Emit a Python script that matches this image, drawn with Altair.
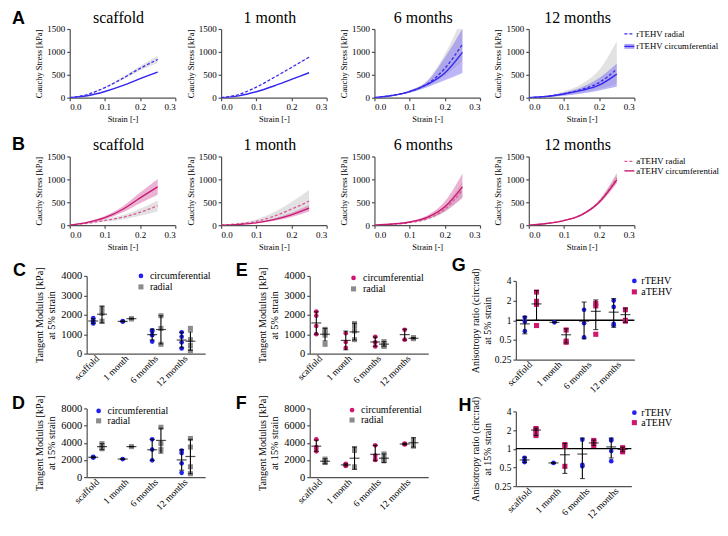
import altair as alt
import pandas as pd

SERIF = "Liberation Serif"
SANS = "Liberation Sans"

# ---------------- data ----------------
strain = [0.0, 0.05, 0.10, 0.15, 0.20, 0.25]
timepoints = ["scaffold", "1 month", "6 months", "12 months"]

# A: rTEHV Cauchy stress [kPa]
rA_sc_rad = [0, 70, 220, 420, 640, 835]
rA_sc_rad_lo = [0, 64, 205, 390, 595, 755]
rA_sc_rad_hi = [0, 76, 235, 450, 690, 920]
rA_sc_circ = [0, 42, 135, 262, 415, 560]
rA_sc_circ_lo = [0, 41, 132, 256, 405, 548]
rA_sc_circ_hi = [0, 43, 138, 268, 425, 572]

rA_1m_rad = [0, 70, 230, 440, 660, 885]
rA_1m_rad_lo = [0, 69, 226, 433, 650, 872]
rA_1m_rad_hi = [0, 71, 234, 447, 670, 898]
rA_1m_circ = [0, 40, 130, 255, 400, 545]
rA_1m_circ_lo = [0, 39, 128, 251, 394, 537]
rA_1m_circ_hi = [0, 41, 132, 259, 406, 553]

rA_6m_rad = [0, 50, 135, 300, 640, 1165]
rA_6m_rad_lo = [0, 42, 115, 250, 480, 800]
rA_6m_rad_hi = [0, 58, 160, 380, 950, 1750]
rA_6m_circ = [0, 48, 133, 290, 540, 990]
rA_6m_circ_lo = [0, 40, 110, 230, 380, 540]
rA_6m_circ_hi = [0, 55, 160, 360, 880, 1500]

rA_12m_rad = [0, 30, 90, 180, 330, 625]
rA_12m_rad_lo = [0, 20, 60, 110, 190, 300]
rA_12m_rad_hi = [0, 40, 140, 300, 610, 1235]
rA_12m_circ = [0, 25, 80, 160, 275, 515]
rA_12m_circ_lo = [0, 15, 45, 90, 160, 237]
rA_12m_circ_hi = [0, 35, 110, 230, 430, 746]

# B: aTEHV Cauchy stress [kPa]
aB_sc_rad = [0, 41, 103, 171, 281, 425]
aB_sc_rad_lo = [0, 30, 78, 125, 205, 301]
aB_sc_rad_hi = [0, 52, 128, 220, 360, 541]
aB_sc_circ = [0, 62, 164, 342, 596, 836]
aB_sc_circ_lo = [0, 48, 130, 275, 480, 664]
aB_sc_circ_hi = [0, 76, 200, 410, 715, 1007]

aB_1m_rad = [0, 30, 85, 195, 350, 523]
aB_1m_rad_lo = [0, 20, 55, 125, 225, 340]
aB_1m_rad_hi = [0, 42, 125, 280, 505, 767]
aB_1m_circ = [0, 18, 50, 120, 225, 370]
aB_1m_circ_lo = [0, 14, 40, 95, 180, 300]
aB_1m_circ_hi = [0, 22, 60, 145, 270, 440]

aB_6m_rad = [0, 20, 55, 140, 350, 767]
aB_6m_rad_lo = [0, 15, 45, 115, 290, 620]
aB_6m_rad_hi = [0, 25, 70, 170, 430, 950]
aB_6m_circ = [0, 25, 70, 170, 400, 837]
aB_6m_circ_lo = [0, 20, 55, 135, 300, 593]
aB_6m_circ_hi = [0, 30, 85, 210, 520, 1130]

aB_12m_rad = [0, 37, 104, 232, 515, 1025]
aB_12m_rad_lo = [0, 34, 96, 215, 480, 940]
aB_12m_rad_hi = [0, 40, 112, 250, 555, 1150]
aB_12m_circ = [0, 35, 100, 225, 500, 990]
aB_12m_circ_lo = [0, 32, 92, 208, 465, 910]
aB_12m_circ_hi = [0, 38, 108, 242, 540, 1110]

# C: rTEHV tangent modulus at 5% strain [kPa]
C_circ_pts = [[1830, 1700, 1600, 1550], [1670, 1650], [1200, 1150, 950, 620], [1100, 870, 580, 270]]
C_circ_mean = [1680, 1660, 980, 700]
C_circ_lo = [1560, 1640, 700, 300]
C_circ_hi = [1800, 1680, 1260, 1100]
C_rad_pts = [[2330, 2080, 1670], [1800, 1790], [1950, 1300, 480], [1300, 720, 420, 130]]
C_rad_mean = [2030, 1800, 1240, 640]
C_rad_lo = [1580, 1780, 500, 170]
C_rad_hi = [2450, 1820, 1950, 1120]

# D: rTEHV tangent modulus at 15% strain [kPa]
D_circ_pts = [[2350, 2300, 2280], [2100], [4400, 3200, 1950], [3100, 2800, 1600, 500]]
D_circ_mean = [2310, 2100, 3180, 2000]
D_circ_lo = [2260, 2090, 1950, 800]
D_circ_hi = [2360, 2110, 4400, 3200]
D_rad_pts = [[3900, 3500, 3300], [3550], [5800, 3900, 3200], [4500, 3500, 1200, 400]]
D_rad_mean = [3550, 3550, 4270, 2400]
D_rad_lo = [3200, 3530, 2800, 400]
D_rad_hi = [3900, 3570, 5700, 4400]

# E: aTEHV tangent modulus at 5% strain [kPa]
E_circ_pts = [[2170, 1950, 1420, 1000], [1050, 600, 300], [870, 580, 370], [1230, 720]]
E_circ_mean = [1580, 680, 600, 980]
E_circ_lo = [1000, 200, 380, 700]
E_circ_hi = [2150, 1160, 850, 1260]
E_rad_pts = [[1250, 1150, 1050, 950, 480], [1550, 1420, 1170, 720], [620, 500, 400, 370], [830, 790, 770]]
E_rad_mean = [1000, 1120, 490, 790]
E_rad_lo = [650, 700, 380, 760]
E_rad_hi = [1300, 1560, 620, 830]

# F: aTEHV tangent modulus at 15% strain [kPa]
F_circ_pts = [[4400, 3500, 3300, 3000], [1550, 1400, 1300], [3700, 2500, 2100, 2000], [3900, 3800, 3850]]
F_circ_mean = [3600, 1420, 2650, 3850]
F_circ_lo = [3000, 1300, 1900, 3750]
F_circ_hi = [4300, 1550, 3700, 3950]
F_rad_pts = [[2100, 1800, 1700], [3300, 3100, 1200], [2700, 2200, 2000, 1900], [4300, 3900, 3600]]
F_rad_mean = [1850, 2200, 2200, 4000]
F_rad_lo = [1550, 900, 1700, 3500]
F_rad_hi = [2150, 3500, 2700, 4600]

# G: anisotropy ratio at 5% strain
G_r_pts = [[1.1, 0.95, 0.68], [0.93], [1.45, 0.9, 0.55], [2.0, 1.6, 0.88, 0.84]]
G_r_mean = [0.88, 0.93, 0.97, 1.33]
G_r_lo = [0.62, 0.92, 0.52, 0.78]
G_r_hi = [1.15, 0.94, 1.9, 2.15]
G_a_pts = [[2.7, 1.95, 1.75, 0.83], [0.71, 0.48, 0.46], [1.82, 1.66, 0.61], [1.45, 1.0, 0.97]]
G_a_mean = [1.78, 0.6, 1.37, 1.22]
G_a_lo = [1.0, 0.45, 0.72, 0.93]
G_a_hi = [2.85, 0.74, 2.05, 1.53]

# H: anisotropy ratio at 15% strain
H_r_pts = [[0.71, 0.64, 0.61], [0.59], [1.4, 0.55, 0.52], [1.4, 1.36, 0.92, 0.63]]
H_r_mean = [0.66, 0.59, 0.82, 1.07]
H_r_lo = [0.6, 0.585, 0.33, 0.71]
H_r_hi = [0.73, 0.595, 1.48, 1.48]
H_a_pts = [[2.12, 2.0, 1.82, 1.63], [1.17, 1.1, 0.52], [1.36, 1.28, 1.13], [1.04, 0.98, 0.89]]
H_a_mean = [2.0, 0.8, 1.24, 0.98]
H_a_lo = [1.63, 0.4, 1.13, 0.89]
H_a_hi = [2.15, 1.21, 1.38, 1.06]

# ---------------- styles ----------------
BLUE_LINE = "#3527f0"
BLUE_BAND = "#7a6cf0"
GREY_BAND = "#d6d6d6"
PINK_LINE = "#c91a72"
PINK_DASH = "#e0589a"
PINK_BAND = "#d868a8"
BLUE_PT = "#2020f0"
PINK_PT = "#d0166e"
GREY_PT = "#8c8c8c"

ONE = pd.DataFrame({"k": [0]})


def vtext(txt, x, y, size=9.0, font=SERIF, weight="normal", baseline="middle", align="left"):
    return alt.Chart(ONE).mark_text(
        text=txt, align=align, baseline=baseline, font=font, fontSize=size,
        fontWeight=weight, color="black"
    ).encode(x=alt.value(x), y=alt.value(y))


def spacer(w, h=1, letters=()):
    base = alt.Chart(ONE).mark_point(opacity=0).encode(x=alt.value(0), y=alt.value(0))
    layers = [base] + [vtext(t, lx, ly, size=18, font=SANS, weight="bold", baseline="alphabetic")
                       for (t, lx, ly) in letters]
    return alt.layer(*layers).properties(width=w, height=h)


def curve_panel(title, rad, rad_lo, rad_hi, circ, circ_lo, circ_hi, col_rad, col_circ, col_band, extras=()):
    df = pd.DataFrame({"strain": strain, "rad": rad, "rad_lo": rad_lo, "rad_hi": rad_hi,
                       "circ": circ, "circ_lo": circ_lo, "circ_hi": circ_hi})
    x = alt.X("strain:Q", scale=alt.Scale(domain=[0, 0.3], nice=False),
              axis=alt.Axis(values=[0, 0.1, 0.2, 0.3], format=".1f", title="Strain [-]",
                            labelFontSize=9, titleFontSize=8.5, tickSize=3, labelPadding=2,
                            titlePadding=3, labelFont=SERIF, titleFont=SERIF, titleFontWeight="normal"))
    ys = alt.Scale(domain=[0, 1500], nice=False)
    ya = alt.Axis(values=[0, 500, 1000, 1500], format="d", title="Cauchy Stress [kPa]", labelFontSize=9,
                  titleFontSize=8.5, tickSize=3, labelPadding=2, titlePadding=3,
                  labelFont=SERIF, titleFont=SERIF, titleFontWeight="normal")
    base = alt.Chart(df)
    layers = [
        base.mark_area(color=GREY_BAND, opacity=0.7, interpolate="monotone", clip=True).encode(
            x=x, y=alt.Y("rad_lo:Q", scale=ys, axis=ya), y2="rad_hi:Q"),
        base.mark_area(color=col_band, opacity=0.5, interpolate="monotone", clip=True).encode(
            x=x, y=alt.Y("circ_lo:Q", scale=ys, axis=ya), y2="circ_hi:Q"),
        base.mark_line(color=col_rad, strokeWidth=1.3, strokeDash=[3, 2], interpolate="monotone",
                       clip=True).encode(x=x, y=alt.Y("rad:Q", scale=ys, axis=ya)),
        base.mark_line(color=col_circ, strokeWidth=1.4, interpolate="monotone", clip=True).encode(
            x=x, y=alt.Y("circ:Q", scale=ys, axis=ya)),
        vtext(title, 49, -6.5, size=16, baseline="alphabetic", align="center"),
    ]
    return alt.layer(*layers, *extras).properties(width=106, height=69)


def scatter_panel(s1, s2, ytitle, ydomain, yvals, ylog, width, height, band, legend, ref_line=False):
    pi, po, po2 = band
    x = alt.X("time:N", scale=alt.Scale(domain=timepoints, paddingInner=pi, paddingOuter=po, align=0),
              axis=alt.Axis(title=None, labelAngle=-45, labelAlign="right", labelBaseline="middle",
                            ticks=False, labelPadding=3, labelFontSize=9.5, labelFont=SERIF))
    xo = alt.XOffset("series:N", scale=alt.Scale(domain=[s1["key"], s2["key"]], paddingInner=0,
                                                 paddingOuter=po2))
    if ylog:
        ys = alt.Scale(type="log", base=2, domain=ydomain, nice=False)
        fmt = "~g"
        lab_size, tit_size, tit_pad = 9.5, 10.0, 2
    else:
        ys = alt.Scale(domain=ydomain, nice=False)
        fmt = "d"
        lab_size, tit_size, tit_pad = 10.5, 10.2, 4
    ya = alt.Axis(values=yvals, format=fmt, title=ytitle, labelFontSize=lab_size, titleFontSize=tit_size,
                  tickSize=3, labelPadding=2, titlePadding=tit_pad, labelFont=SERIF, titleFont=SERIF,
                  titleFontWeight="normal")
    layers = []
    if ref_line:
        layers.append(alt.Chart(ONE).mark_rule(color="black", strokeWidth=1.3).encode(
            y=alt.datum(1, scale=ys, axis=ya)))
    for s in (s1, s2):
        rows = [(t, s["key"], v) for t, vals in zip(timepoints, s["pts"]) for v in vals]
        pts = pd.DataFrame(rows, columns=["time", "series", "value"])
        summ = pd.DataFrame({"time": timepoints, "series": s["key"], "mean": s["mean"],
                             "lo": s["lo"], "hi": s["hi"]})
        layers.append(alt.Chart(pts).mark_point(filled=True, shape=s["shape"], size=s["size"],
                                                color=s["color"], opacity=1).encode(
            x=x, xOffset=xo, y=alt.Y("value:Q", scale=ys, axis=ya)))
        layers.append(alt.Chart(summ).mark_rule(color="black", strokeWidth=1.1).encode(
            x=x, xOffset=xo, y=alt.Y("lo:Q", scale=ys, axis=ya), y2="hi:Q"))
        layers.append(alt.Chart(summ).mark_tick(color="black", size=10, thickness=1.2).encode(
            x=x, xOffset=xo, y=alt.Y("mean:Q", scale=ys, axis=ya)))
        layers.append(alt.Chart(summ).mark_tick(color="black", size=5, thickness=1.1).encode(
            x=x, xOffset=xo, y=alt.Y("lo:Q", scale=ys, axis=ya)))
        layers.append(alt.Chart(summ).mark_tick(color="black", size=5, thickness=1.1).encode(
            x=x, xOffset=xo, y=alt.Y("hi:Q", scale=ys, axis=ya)))
    lx, ly, gap, tdx = legend
    for i, s in enumerate((s1, s2)):
        yy = ly + i * gap
        layers.append(alt.Chart(ONE).mark_point(filled=True, shape=s["shape"], size=s["size"],
                                                color=s["color"], opacity=1).encode(
            x=alt.value(lx), y=alt.value(yy)))
        layers.append(vtext(s["label"], lx + tdx, yy, size=10))
    return alt.layer(*layers).properties(width=width, height=height)


def ser(key, label, pts, mean, lo, hi, color, shape):
    return {"key": key, "label": label, "pts": pts, "mean": mean, "lo": lo, "hi": hi,
            "color": color, "shape": shape, "size": 22 if shape == "circle" else 26}


# ---------------- legends for curve rows ----------------
legA = [
    alt.Chart(ONE).mark_rule(color=BLUE_LINE, strokeWidth=1.3, strokeDash=[3, 2]).encode(
        x=alt.value(96), x2=alt.value(106), y=alt.value(5)),
    vtext("rTEHV radial", 108, 5, size=8.8),
    alt.Chart(ONE).mark_rule(color=BLUE_BAND, strokeWidth=5, opacity=0.6).encode(
        x=alt.value(96), x2=alt.value(106), y=alt.value(17.5)),
    alt.Chart(ONE).mark_rule(color=BLUE_LINE, strokeWidth=1.3).encode(
        x=alt.value(96), x2=alt.value(106), y=alt.value(17.5)),
    vtext("rTEHV circumferential", 108, 17.5, size=8.8),
]
legB = [
    alt.Chart(ONE).mark_rule(color=PINK_DASH, strokeWidth=1.3, strokeDash=[3, 2]).encode(
        x=alt.value(96), x2=alt.value(106), y=alt.value(5)),
    vtext("aTEHV radial", 108, 5, size=8.8),
    alt.Chart(ONE).mark_rule(color=PINK_LINE, strokeWidth=1.4).encode(
        x=alt.value(96), x2=alt.value(106), y=alt.value(14.5)),
    vtext("aTEHV circumferential", 108, 14.5, size=8.8),
]

A1 = curve_panel("scaffold", rA_sc_rad, rA_sc_rad_lo, rA_sc_rad_hi, rA_sc_circ, rA_sc_circ_lo, rA_sc_circ_hi,
                 BLUE_LINE, BLUE_LINE, BLUE_BAND)
A2 = curve_panel("1 month", rA_1m_rad, rA_1m_rad_lo, rA_1m_rad_hi, rA_1m_circ, rA_1m_circ_lo, rA_1m_circ_hi,
                 BLUE_LINE, BLUE_LINE, BLUE_BAND)
A3 = curve_panel("6 months", rA_6m_rad, rA_6m_rad_lo, rA_6m_rad_hi, rA_6m_circ, rA_6m_circ_lo, rA_6m_circ_hi,
                 BLUE_LINE, BLUE_LINE, BLUE_BAND)
A4 = curve_panel("12 months", rA_12m_rad, rA_12m_rad_lo, rA_12m_rad_hi, rA_12m_circ, rA_12m_circ_lo,
                 rA_12m_circ_hi, BLUE_LINE, BLUE_LINE, BLUE_BAND, extras=legA)

B1 = curve_panel("scaffold", aB_sc_rad, aB_sc_rad_lo, aB_sc_rad_hi, aB_sc_circ, aB_sc_circ_lo, aB_sc_circ_hi,
                 PINK_DASH, PINK_LINE, PINK_BAND)
B2 = curve_panel("1 month", aB_1m_rad, aB_1m_rad_lo, aB_1m_rad_hi, aB_1m_circ, aB_1m_circ_lo, aB_1m_circ_hi,
                 PINK_DASH, PINK_LINE, PINK_BAND)
B3 = curve_panel("6 months", aB_6m_rad, aB_6m_rad_lo, aB_6m_rad_hi, aB_6m_circ, aB_6m_circ_lo, aB_6m_circ_hi,
                 PINK_DASH, PINK_LINE, PINK_BAND)
B4 = curve_panel("12 months", aB_12m_rad, aB_12m_rad_lo, aB_12m_rad_hi, aB_12m_circ, aB_12m_circ_lo,
                 aB_12m_circ_hi, PINK_DASH, PINK_LINE, PINK_BAND, extras=legB)

BAND_MOD = (0.257, 0.139, 0.25)
BAND_ANI = (0.0, 0.0, 0.266)

C = scatter_panel(
    ser("c", "circumferential", C_circ_pts, C_circ_mean, C_circ_lo, C_circ_hi, BLUE_PT, "circle"),
    ser("r", "radial", C_rad_pts, C_rad_mean, C_rad_lo, C_rad_hi, GREY_PT, "square"),
    ["Tangent Modulus [kPa]", "at 5% strain"], [0, 4000], [0, 1000, 2000, 3000, 4000], False,
    119, 78, BAND_MOD, (54.5, 0, 11, 9))
E = scatter_panel(
    ser("c", "circumferential", E_circ_pts, E_circ_mean, E_circ_lo, E_circ_hi, PINK_PT, "circle"),
    ser("r", "radial", E_rad_pts, E_rad_mean, E_rad_lo, E_rad_hi, GREY_PT, "square"),
    ["Tangent Modulus [kPa]", "at 5% strain"], [0, 4000], [0, 1000, 2000, 3000, 4000], False,
    119, 78, BAND_MOD, (44, 2, 11, 9.5))
G = scatter_panel(
    ser("r", "rTEHV", G_r_pts, G_r_mean, G_r_lo, G_r_hi, BLUE_PT, "circle"),
    ser("a", "aTEHV", G_a_pts, G_a_mean, G_a_lo, G_a_hi, PINK_PT, "square"),
    ["Anisotropy ratio (circ:rad)", "at 5% strain"], [0.25, 4], [0.25, 0.5, 1, 2, 4], True,
    119, 79, BAND_ANI, (119, 0, 11, 7), ref_line=True)
D = scatter_panel(
    ser("c", "circumferential", D_circ_pts, D_circ_mean, D_circ_lo, D_circ_hi, BLUE_PT, "circle"),
    ser("r", "radial", D_rad_pts, D_rad_mean, D_rad_lo, D_rad_hi, GREY_PT, "square"),
    ["Tangent Modulus [kPa]", "at 15% strain"], [0, 8000], [0, 2000, 4000, 6000, 8000], False,
    119, 69, BAND_MOD, (12, 2.5, 10, 9))
F = scatter_panel(
    ser("c", "circumferential", F_circ_pts, F_circ_mean, F_circ_lo, F_circ_hi, PINK_PT, "circle"),
    ser("r", "radial", F_rad_pts, F_rad_mean, F_rad_lo, F_rad_hi, GREY_PT, "square"),
    ["Tangent Modulus [kPa]", "at 15% strain"], [0, 8000], [0, 2000, 4000, 6000, 8000], False,
    119, 69, BAND_MOD, (42.5, 1.7, 10, 9))
H = scatter_panel(
    ser("r", "rTEHV", H_r_pts, H_r_mean, H_r_lo, H_r_hi, BLUE_PT, "circle"),
    ser("a", "aTEHV", H_a_pts, H_a_mean, H_a_lo, H_a_hi, PINK_PT, "square"),
    ["Anisotropy ratio (circ:rad)", "at 15% strain"], [0.25, 4], [0.25, 0.5, 1, 2, 4], True,
    116, 75, BAND_ANI, (119, 1.3, 10, 7), ref_line=True)


def hrow(*charts):
    return alt.hconcat(*charts, spacing=0, bounds="flush").resolve_scale(xOffset="independent")


def vcol(*charts, bounds="flush"):
    return alt.vconcat(*charts, spacing=0, bounds=bounds).resolve_scale(xOffset="independent")


rowA = hrow(spacer(59, 1, [("A", 1, -5)]), A1, spacer(46), A2, spacer(48), A3, spacer(49), A4)
rowB = hrow(spacer(59, 1, [("B", 1, -6)]), B1, spacer(46), B2, spacer(48), B3, spacer(49), B4)
rowC = hrow(spacer(76, 1, [("C", 2, 0)]), C, spacer(105, 1, [("E", 30.6, 0)]), E,
            spacer(88, 1, [("G", 23.5, -4.9)]), vcol(spacer(1, 5), G))
rowD = hrow(spacer(76, 1, [("D", 1, 1)]), D, spacer(105, 1, [("F", 30.6, 1)]), F,
            spacer(88, 1, [("H", 30.5, 2.9)]), vcol(spacer(1, 3), H))

chart = vcol(rowA, spacer(1, 10), rowB, spacer(1, 2), rowC, rowD, bounds="full").properties(
    padding=0, background="white"
).configure_view(stroke=None).configure_axis(
    domainColor="#505050", domainWidth=1.2, tickColor="#505050", tickWidth=1.2,
    labelColor="black", titleColor="black", labelFont=SERIF, titleFont=SERIF,
    titleFontWeight="normal", grid=False
)

chart.save("out.html", embed_options={"renderer": "svg", "actions": False})
